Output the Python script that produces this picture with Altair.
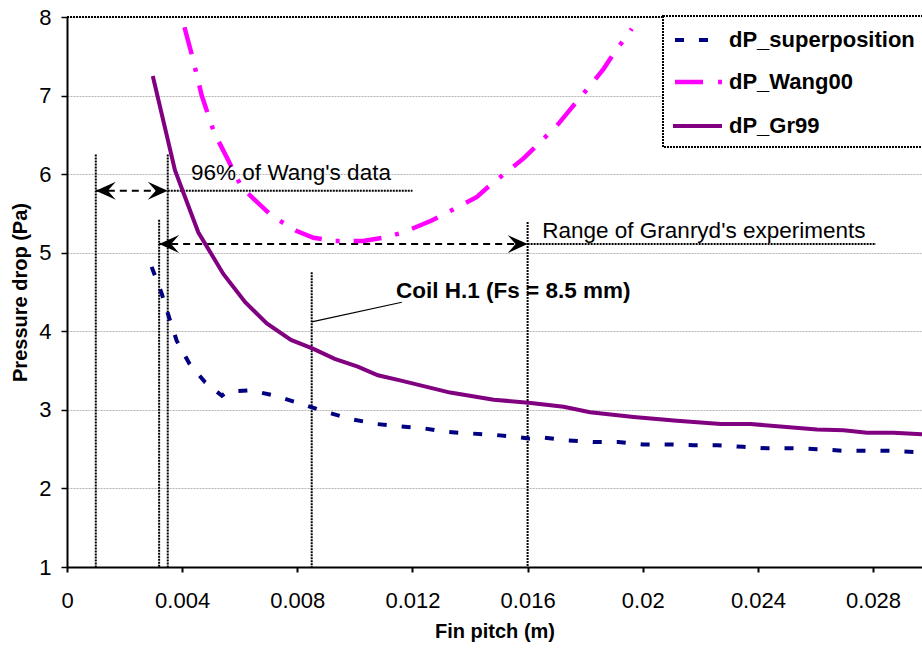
import altair as alt
import pandas as pd

# Fin pitch (m) against pressure drop (Pa) for the three correlations
sup_x = [0.00294, 0.00329, 0.00356, 0.00381, 0.00425, 0.0048, 0.00538, 0.00555,
         0.00636, 0.00723, 0.0081, 0.00902, 0.0099, 0.01075, 0.01157, 0.0123,
         0.01314, 0.014, 0.0149, 0.01571, 0.01603, 0.01658, 0.01741, 0.01828,
         0.01915, 0.02002, 0.02089, 0.02175, 0.02259, 0.02349, 0.02433, 0.02523,
         0.02606, 0.02693, 0.0278, 0.0286, 0.02954]
sup_y = [4.82, 4.48, 4.16, 3.88, 3.59, 3.35, 3.18, 3.23,
         3.25, 3.18, 3.08, 2.97, 2.88, 2.82, 2.79, 2.77,
         2.72, 2.70, 2.68, 2.65, 2.635, 2.645, 2.61, 2.59,
         2.59, 2.56, 2.56, 2.55, 2.55, 2.53, 2.51, 2.51,
         2.50, 2.48, 2.48, 2.48, 2.46]

wang_x = [0.00408, 0.00435, 0.00468, 0.00511, 0.00561, 0.00607, 0.00653, 0.00711,
          0.00796, 0.00856, 0.00931, 0.01028, 0.01099, 0.01169, 0.01267, 0.01331,
          0.01424, 0.0147, 0.01528, 0.01586, 0.01661, 0.01707, 0.01754, 0.01818,
          0.01864, 0.01898, 0.01962]
wang_y = [7.87, 7.50, 7.00, 6.53, 6.17, 5.83, 5.67, 5.47,
          5.28, 5.19, 5.15, 5.15, 5.19, 5.26, 5.41, 5.53,
          5.71, 5.86, 6.03, 6.20, 6.47, 6.64, 6.85, 7.13,
          7.34, 7.53, 7.85]

gr_x = [0.00298, 0.00375, 0.00456, 0.00543, 0.00619, 0.00694, 0.00778, 0.00854,
        0.0093, 0.0101, 0.0108, 0.01157, 0.01331, 0.01482, 0.01603, 0.01725,
        0.01817, 0.01968, 0.02119, 0.02271, 0.02374, 0.02605, 0.02698, 0.02779,
        0.02871, 0.0297]
gr_y = [7.25, 6.05, 5.26, 4.73, 4.37, 4.10, 3.89, 3.78,
        3.65, 3.55, 3.44, 3.375, 3.22, 3.13, 3.09, 3.04,
        2.97, 2.91, 2.86, 2.82, 2.82, 2.75, 2.74, 2.71,
        2.71, 2.69]

series_names = ["dP_superposition", "dP_Wang00", "dP_Gr99"]

x_ticks = [0, 0.004, 0.008, 0.012, 0.016, 0.02, 0.024, 0.028]
y_ticks = [1, 2, 3, 4, 5, 6, 7, 8]

# Marker lines for the data ranges and the coil fin pitch
vline_x = [0.001, 0.0032, 0.0035, 0.0085, 0.016]
vline_top = [6.25, 5.42, 6.25, 4.75, 5.39]

# dotted extension lines under the range labels
ext_x = [0.0035, 0.016]
ext_x2 = [0.012, 0.0281]
ext_y = [5.79, 5.11]

# dashed double-headed range arrows
arrow_x = [0.001, 0.0032]
arrow_x2 = [0.0035, 0.016]
arrow_y = [5.79, 5.11]

# leader from the coil line to its label
lead_x, lead_x2 = [0.0085], [0.01163]
lead_y, lead_y2 = [4.12], [4.37]

label_text = ["96% of Wang's data", "Range of Granryd's experiments"]
label_x = [0.00431, 0.01651]
label_y = [5.92, 5.19]

coil_text = ["Coil H.1 (Fs = 8.5 mm)"]
coil_x = [0.01143]
coil_y = [4.43]

X_MAX = 0.0297
FONT = "Liberation Sans"
W, H = 855, 550

xs = alt.Scale(domain=[0, X_MAX], nice=False, zero=False)
ys = alt.Scale(domain=[1, 8], nice=False, zero=False)

x_axis = alt.Axis(values=x_ticks, format="~g", grid=False, domainColor="black",
                  domainWidth=2, tickColor="black", tickSize=5, tickWidth=2,
                  labelFont=FONT, labelFontSize=22, labelColor="black",
                  labelPadding=18, labelFlush=False, title="Fin pitch (m)",
                  titleFont=FONT, titleFontSize=20, titleFontWeight="bold",
                  titleColor="black", titlePadding=10)
y_axis = alt.Axis(values=y_ticks, format="d", grid=True, gridColor="#b4b4b4",
                  gridDash=[2, 1], gridWidth=1, domainColor="black", domainWidth=2,
                  tickColor="black", tickSize=6, tickWidth=1.5,
                  labelFont=FONT, labelFontSize=22, labelColor="black",
                  labelPadding=10, title="Pressure drop (Pa)", titleFont=FONT,
                  titleFontSize=20, titleFontWeight="bold", titleColor="black",
                  titlePadding=8)


def enc_xy(chart, xf="x", yf="y", **extra):
    # every data layer shares the same scales and axis definitions
    return chart.encode(
        x=alt.X(f"{xf}:Q", scale=xs, axis=x_axis),
        y=alt.Y(f"{yf}:Q", scale=ys, axis=y_axis),
        **extra,
    )


df_sup = pd.DataFrame({"x": sup_x, "y": sup_y})
df_wang = pd.DataFrame({"x": wang_x, "y": wang_y})
df_gr = pd.DataFrame({"x": gr_x, "y": gr_y})

gr_line = enc_xy(alt.Chart(df_gr).mark_line(color="#800080", strokeWidth=4))
sup_line = enc_xy(alt.Chart(df_sup).mark_line(color="#000080", strokeWidth=4,
                                              strokeDash=[9, 15]))
wang_line = enc_xy(alt.Chart(df_wang).mark_line(color="#ff00ff", strokeWidth=4.5,
                                                strokeDash=[28, 14, 4, 14]))

one = pd.DataFrame({"a": [0]})
top_border = alt.Chart(one).mark_rule(
    color="black", strokeWidth=2, strokeDash=[2, 1]).encode(
    x=alt.value(0), x2=alt.value(W), y=alt.value(0))

vlines = enc_xy(
    alt.Chart(pd.DataFrame({"x": vline_x, "top": vline_top, "bot": [1] * len(vline_x)}))
    .mark_rule(color="black", strokeWidth=2, strokeDash=[2, 1]),
    yf="top", y2="bot:Q")
ext_lines = enc_xy(
    alt.Chart(pd.DataFrame({"x": ext_x, "x2": ext_x2, "y": ext_y}))
    .mark_rule(color="black", strokeWidth=2, strokeDash=[2, 1]), x2="x2:Q")
arrow_lines = enc_xy(
    alt.Chart(pd.DataFrame({"x": arrow_x, "x2": arrow_x2, "y": arrow_y}))
    .mark_rule(color="black", strokeWidth=2, strokeDash=[7, 5]), x2="x2:Q")

LEFT_HEAD = "M0,0 L2,-0.9 L1.2,0 L2,0.9 Z"
RIGHT_HEAD = "M0,0 L-2,-0.9 L-1.2,0 L-2,0.9 Z"
left_heads = enc_xy(alt.Chart(pd.DataFrame({"x": arrow_x, "y": arrow_y})).mark_point(
    shape=LEFT_HEAD, filled=True, size=400, color="black", opacity=1, strokeWidth=0))
right_heads = enc_xy(alt.Chart(pd.DataFrame({"x": arrow_x2, "y": arrow_y})).mark_point(
    shape=RIGHT_HEAD, filled=True, size=400, color="black", opacity=1, strokeWidth=0))

leader = enc_xy(
    alt.Chart(pd.DataFrame({"x": lead_x, "x2": lead_x2, "y": lead_y, "y2": lead_y2}))
    .mark_rule(color="black", strokeWidth=1.2), x2="x2:Q", y2="y2:Q")

range_labels = enc_xy(
    alt.Chart(pd.DataFrame({"t": label_text, "x": label_x, "y": label_y})).mark_text(
        font=FONT, fontSize=22.5, color="black", align="left", baseline="alphabetic"),
    text="t:N")
coil_label = enc_xy(
    alt.Chart(pd.DataFrame({"t": coil_text, "x": coil_x, "y": coil_y})).mark_text(
        font=FONT, fontSize=22.5, fontWeight="bold", color="black", align="left",
        baseline="alphabetic"),
    text="t:N")

# Legend box drawn in pixel space at the top right of the plot
legend_box = alt.Chart(one).mark_rect(fill="white", stroke="black", strokeWidth=2,
                                      strokeDash=[2, 1]).encode(
    x=alt.value(596), x2=alt.value(880), y=alt.value(-1), y2=alt.value(130))
leg_sup = alt.Chart(one).mark_rule(color="#000080", strokeWidth=4, strokeDash=[9, 15]).encode(
    x=alt.value(608), x2=alt.value(641), y=alt.value(23))
leg_wang = alt.Chart(one).mark_rule(color="#ff00ff", strokeWidth=4.5, strokeDash=[28, 15, 4, 10]).encode(
    x=alt.value(608), x2=alt.value(656), y=alt.value(65))
leg_gr = alt.Chart(one).mark_rule(color="#800080", strokeWidth=4).encode(
    x=alt.value(606), x2=alt.value(655), y=alt.value(109))

leg_rows = [23, 65, 109]
leg_texts = [
    alt.Chart(pd.DataFrame({"t": [name]})).mark_text(
        font=FONT, fontSize=22, fontWeight="bold", color="black", align="left",
        baseline="middle").encode(x=alt.value(662), y=alt.value(row), text="t:N")
    for name, row in zip(series_names, leg_rows)
]

chart = alt.layer(
    top_border, vlines, ext_lines, arrow_lines, left_heads, right_heads,
    leader, sup_line, wang_line, gr_line,
    range_labels, coil_label, legend_box, leg_sup, leg_wang, leg_gr, *leg_texts,
).properties(
    width=W, height=H,
    autosize=alt.AutoSizeParams(type="none"),
    padding={"left": 67, "top": 17, "right": 0, "bottom": 81},
    background="white",
).configure_view(stroke=None)

chart.save("out.html", embed_options={"renderer": "svg", "actions": False})
